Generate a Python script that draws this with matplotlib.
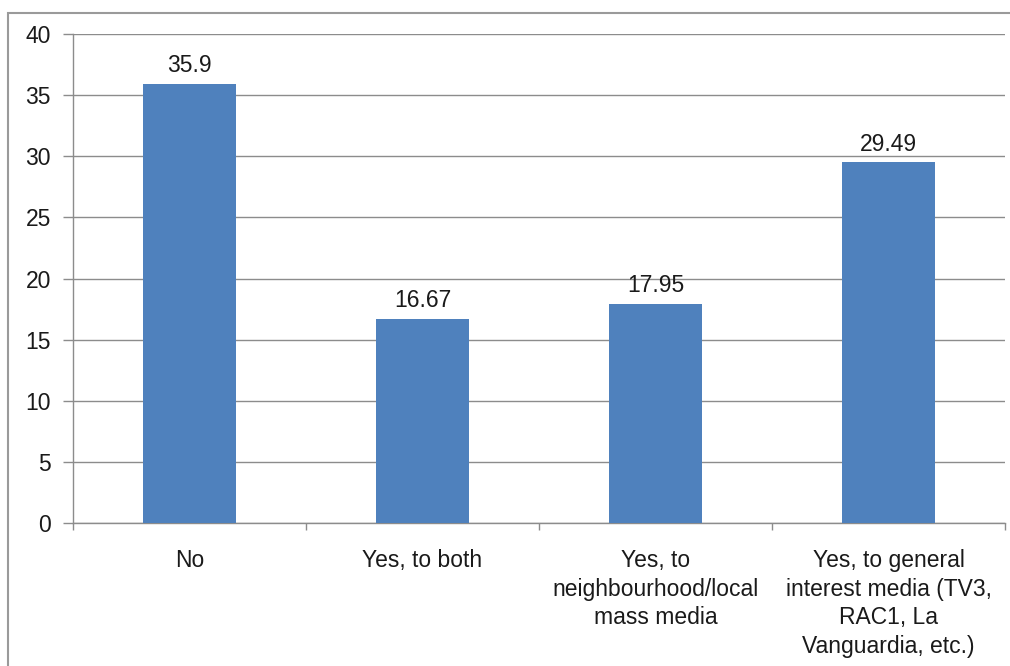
import matplotlib
matplotlib.use('Agg')
import matplotlib.pyplot as plt
from matplotlib.patches import Rectangle

plt.rcParams['font.family'] = ['Liberation Sans', 'DejaVu Sans']

categories = ['No', 'Yes, to both', 'Yes, to\nneighbourhood/local\nmass media',
              'Yes, to general\ninterest media (TV3,\nRAC1, La\nVanguardia, etc.)']
values = [35.9, 16.67, 17.95, 29.49]
value_labels = ['35.9', '16.67', '17.95', '29.49']
yticks = [0, 5, 10, 15, 20, 25, 30, 35, 40]

bar_color = '#4F81BD'
grid_color = '#8C8C8C'
text_color = '#1a1a1a'

fig = plt.figure(figsize=(10.1, 6.66), dpi=100)
ax = fig.add_axes([73 / 1010, 1 - 523 / 666, (1005 - 73) / 1010, (523 - 34) / 666])

# outer frame of the chart area
fig.patches.append(Rectangle((8 / 1010, -0.1), 1.2, 1.1 - 13 / 666,
                             transform=fig.transFigure, fill=False,
                             edgecolor='#9A9A9A', lw=1.5))

x = range(len(categories))
ax.bar(x, values, width=0.4, color=bar_color, zorder=3)
for xi, v, lab in zip(x, values, value_labels):
    ax.annotate(lab, (xi, v), xytext=(0, 5), textcoords='offset points',
                ha='center', va='bottom', fontsize=16.5, color=text_color)

ax.set_xlim(-0.5, len(categories) - 0.5)
ax.set_ylim(0, 40)
ax.set_yticks(yticks)
ax.set_yticklabels([str(t) for t in yticks], fontsize=16.5, color=text_color)
ax.yaxis.grid(True, color=grid_color, lw=1.0, zorder=0)

# category labels between boundary ticks
ax.set_xticks([i - 0.5 for i in range(len(categories) + 1)])
ax.set_xticklabels([])
ax.set_xticks(list(x), minor=True)
ax.set_xticklabels(categories, minor=True, fontsize=16.5, color=text_color,
                   va='top', linespacing=1.3)
ax.tick_params(axis='x', which='minor', length=0, pad=19)
ax.tick_params(axis='x', which='major', length=5, color=grid_color, width=1)
ax.tick_params(axis='y', length=7, color=grid_color, width=1, pad=9)

for s in ['top', 'right']:
    ax.spines[s].set_visible(False)
for s in ['left', 'bottom']:
    ax.spines[s].set_color(grid_color)
    ax.spines[s].set_linewidth(1.0)

fig.savefig('out.png', dpi=100)
